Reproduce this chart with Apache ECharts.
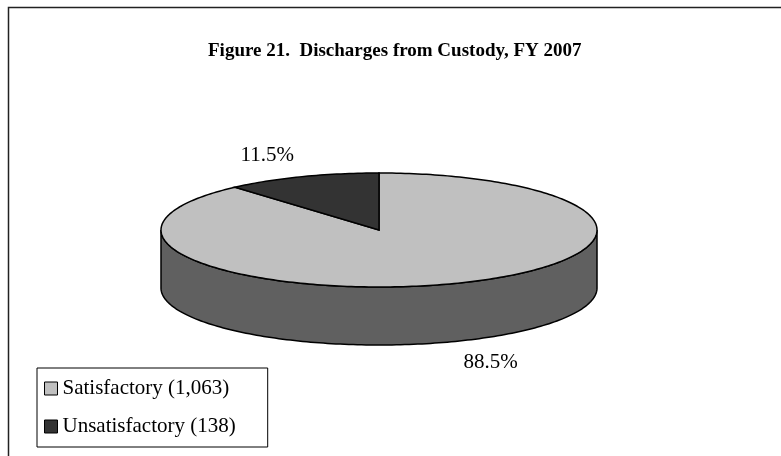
<!DOCTYPE html>
<html lang="en">
<head>
    <meta charset="UTF-8">
    <title>Discharges from Custody, FY 2007</title>
    <script src="https://cdn.jsdelivr.net/npm/echarts@6/dist/echarts.min.js"></script>
    <style>
        html, body { margin: 0; padding: 0; background: #fff; }
    </style>
</head>
<body>
<div id="main" style="width: 781px;height:456px;"></div>
<script>
    var categories = ['Satisfactory', 'Unsatisfactory'];
    var counts = [1063, 138];
    var topColors = ['#c0c0c0', '#333333'];
    var sideColors = ['#606060', '#1c1c1c'];

    var total = counts.reduce(function (a, b) { return a + b; }, 0);
    var starts = [];
    var acc = 0;
    counts.forEach(function (v) { starts.push(acc / total * Math.PI * 2); acc += v; });

    // flattened pie: centre, radii and thickness in pixels
    var cx = 379, cy = 230, rx = 218, ry = 57, depth = 58;

    function pt(t, dy) {
        return [cx + rx * Math.sin(t), cy - ry * Math.cos(t) + (dy || 0)];
    }
    function arc(a, b, dy) {
        var pts = [], n = Math.max(2, Math.ceil((b - a) / 0.02));
        for (var k = 0; k <= n; k++) pts.push(pt(a + (b - a) * k / n, dy));
        return pts;
    }

    function makeSeries(i) {
        var name = categories[i] + ' (' + counts[i].toLocaleString('en-US') + ')';
        return {
            type: 'custom',
            name: name,
            coordinateSystem: 'none',
            itemStyle: { color: topColors[i] },
            data: [counts[i]],
            renderItem: function (params, api) {
                var v = api.value(0);
                var a0 = starts[i], a1 = a0 + v / total * Math.PI * 2;
                var children = [];
                // front wall
                var sa = Math.max(a0, Math.PI / 2), sb = Math.min(a1, Math.PI * 1.5);
                if (sa < sb) {
                    var wall = arc(sa, sb, 0).concat(arc(sa, sb, depth).reverse());
                    children.push({
                        type: 'polygon',
                        shape: { points: wall },
                        style: { fill: sideColors[i], stroke: '#000', lineWidth: 1.5 }
                    });
                }
                // top face
                children.push({
                    type: 'polygon',
                    shape: { points: [[cx, cy]].concat(arc(a0, a1, 0)) },
                    style: { fill: topColors[i], stroke: '#000', lineWidth: 1.5 }
                });
                // percentage label
                var mid = (a0 + a1) / 2;
                var front = Math.cos(mid) < 0;
                children.push({
                    type: 'text',
                    style: {
                        text: (v / total * 100).toFixed(1) + '%',
                        x: cx + rx * 1.45 * Math.sin(mid),
                        y: cy - ry * 1.4 * Math.cos(mid) + (front ? depth : 0),
                        align: 'center',
                        verticalAlign: 'middle',
                        fill: '#000',
                        font: '21px "Liberation Serif"'
                    }
                });
                return { type: 'group', children: children };
            }
        };
    }

    var myChart = echarts.init(document.getElementById('main'));
    var option = {
        animation: false,
        backgroundColor: '#fff',
        title: {
            text: 'Figure 21.  Discharges from Custody, FY 2007',
            left: 203,
            top: 37,
            textStyle: {
                fontFamily: 'Liberation Serif',
                fontWeight: 'bold',
                fontSize: 19,
                color: '#000'
            }
        },
        legend: {
            orient: 'vertical',
            left: 37,
            top: 368,
            data: categories.map(function (c, i) {
                return c + ' (' + counts[i].toLocaleString('en-US') + ')';
            }),
            icon: 'rect',
            itemWidth: 13,
            itemHeight: 13,
            itemGap: 17,
            padding: [10, 32, 10, 7],
            borderColor: '#000',
            borderWidth: 1,
            itemStyle: { borderColor: '#000', borderWidth: 1 },
            textStyle: { fontFamily: 'Liberation Serif', fontSize: 21, color: '#000' }
        },
        graphic: [{
            type: 'rect',
            shape: { x: 8.5, y: 7.5, width: 800, height: 500 },
            style: { fill: 'none', stroke: '#222', lineWidth: 1.5 },
            silent: true
        }],
        series: categories.map(function (c, i) { return makeSeries(i); })
    };
    myChart.setOption(option);
</script>
</body>
</html>
